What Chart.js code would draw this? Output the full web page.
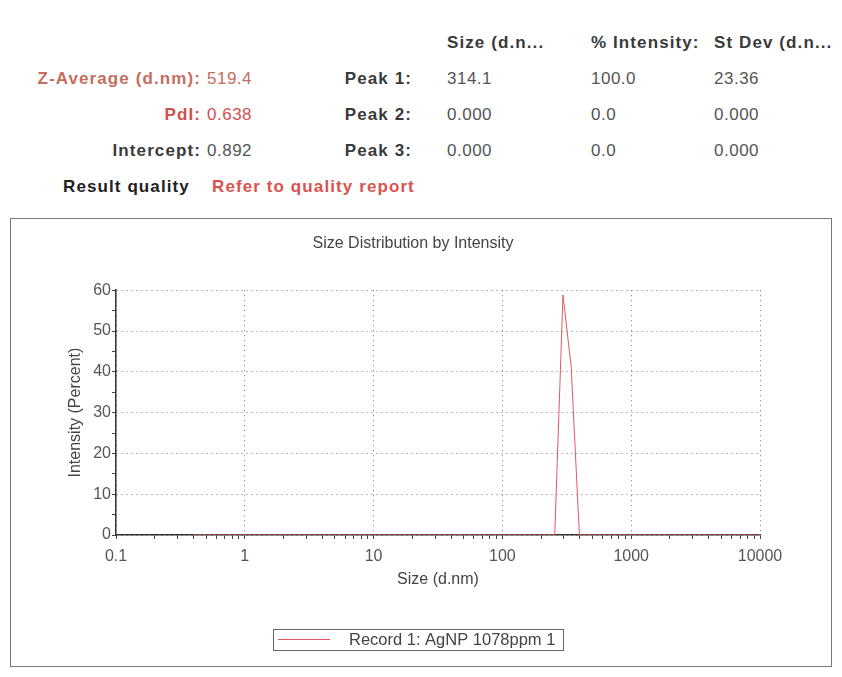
<!DOCTYPE html>
<html>
<head>
<meta charset="utf-8">
<script src="https://cdn.jsdelivr.net/npm/chart.js@4.4.1/dist/chart.umd.min.js"></script>
<style>
    body { margin: 0; background: #fff; font-family: "Liberation Sans", Arial, sans-serif; }
    .t { position: absolute; font-size: 17px; line-height: 20px; white-space: nowrap; color: #555; letter-spacing: 0.5px; }
    .b { font-weight: bold; color: #3a3a3a; letter-spacing: 1.1px; }
    .r { text-align: right; }
    #box { position: absolute; left: 10px; top: 218px; width: 820px; height: 447px; border: 1px solid #777; }
</style>
</head>
<body>
<!-- summary table above the plot -->
<div class="t b" style="left:447px;top:33px">Size (d.n...</div>
<div class="t b" style="left:591px;top:33px">% Intensity:</div>
<div class="t b" style="left:714px;top:33px">St Dev (d.n...</div>

<div class="t b r" style="right:641px;top:69px;color:#c46e5e">Z-Average (d.nm):</div>
<div class="t" style="left:207px;top:69px;color:#c46e5e">519.4</div>
<div class="t b r" style="right:641px;top:105px;color:#d24f4f">PdI:</div>
<div class="t" style="left:207px;top:105px;color:#d24f4f">0.638</div>
<div class="t b r" style="right:641px;top:141px">Intercept:</div>
<div class="t" style="left:207px;top:141px">0.892</div>

<div class="t b r" style="right:430px;top:69px">Peak 1:</div>
<div class="t b r" style="right:430px;top:105px">Peak 2:</div>
<div class="t b r" style="right:430px;top:141px">Peak 3:</div>

<div class="t" style="left:447px;top:69px">314.1</div>
<div class="t" style="left:591px;top:69px">100.0</div>
<div class="t" style="left:714px;top:69px">23.36</div>
<div class="t" style="left:447px;top:105px">0.000</div>
<div class="t" style="left:591px;top:105px">0.0</div>
<div class="t" style="left:714px;top:105px">0.000</div>
<div class="t" style="left:447px;top:141px">0.000</div>
<div class="t" style="left:591px;top:141px">0.0</div>
<div class="t" style="left:714px;top:141px">0.000</div>

<div class="t b" style="left:63px;top:177px;color:#222">Result quality</div>
<div class="t b" style="left:212px;top:177px;color:#d9534f">Refer to quality report</div>

<div id="box"><canvas id="c" width="820" height="447"></canvas></div>

<script>
// size classes (d.nm) and intensity (%)
const sizes = [0.4, 1, 10, 100, 190.1, 220.2, 255.0, 295.3, 342.0, 396.1, 458.7, 1000, 10000];
const intensity = [0, 0, 0, 0, 0, 0, 0, 58.8, 41.2, 0, 0, 0, 0];
const recordLabel = 'Record 1: AgNP 1078ppm 1';

const xMajor = [0.1, 1, 10, 100, 1000, 10000];
const xTickLabels = ['0.1', '1', '10', '100', '1000', '10000'];
const yMajor = [0, 10, 20, 30, 40, 50, 60];

const FONT = '"Liberation Sans", Arial, sans-serif';

function buildXTicks(scale) {
    let ticks = [];
    for (let i = 0; i < xMajor.length; i++) {
        ticks.push({ value: xMajor[i], major: true });
        if (i < xMajor.length - 1) {
            for (let m = 2; m <= 9; m++) ticks.push({ value: xMajor[i] * m, major: false });
        }
    }
    scale.ticks = ticks;
}

function buildYTicks(scale) {
    let ticks = [];
    for (let v = 0; v <= 60; v += 5) ticks.push({ value: v, major: yMajor.includes(v) });
    scale.ticks = ticks;
}

// boxed legend at the bottom, like the instrument report
const boxLegend = {
    id: 'boxLegend',
    afterDraw(chart) {
        const ctx = chart.ctx;
        const ds = chart.data.datasets[0];
        ctx.save();
        ctx.strokeStyle = '#666';
        ctx.lineWidth = 1;
        ctx.strokeRect(262.5, 410.5, 290, 21);
        ctx.strokeStyle = ds.borderColor;
        ctx.beginPath();
        ctx.moveTo(267, 420.5);
        ctx.lineTo(319, 420.5);
        ctx.stroke();
        ctx.fillStyle = '#444';
        ctx.font = '16.5px ' + FONT;
        ctx.textBaseline = 'middle';
        ctx.fillText(ds.label, 338, 421);
        ctx.restore();
    }
};

const ctx = document.getElementById('c').getContext('2d');
new Chart(ctx, {
    type: 'line',
    data: {
        datasets: [{
            label: recordLabel,
            data: sizes.map((s, i) => ({ x: s, y: intensity[i] })),
            borderColor: '#e05a60',
            borderWidth: 1,
            pointRadius: 0,
            tension: 0
        }]
    },
    options: {
        responsive: false,
        animation: false,
        layout: { padding: { left: 55, right: 71, top: 0, bottom: 76 } },
        plugins: {
            legend: { display: false },
            tooltip: { enabled: false },
            title: {
                display: true,
                text: 'Size Distribution by Intensity',
                color: '#444',
                font: { family: FONT, size: 16, weight: 'normal' },
                padding: { top: 15, bottom: 37 }
            }
        },
        scales: {
            x: {
                type: 'logarithmic',
                min: 0.1,
                max: 10000,
                afterBuildTicks: buildXTicks,
                afterFit: (s) => { s.height = 55; },
                ticks: {
                    autoSkip: false,
                    maxRotation: 0,
                    padding: 8,
                    color: '#555',
                    font: { family: FONT, size: 16 },
                    callback: (v) => { const i = xMajor.indexOf(v); return i >= 0 ? xTickLabels[i] : ''; }
                },
                grid: {
                    color: (c) => (c.tick && c.tick.major ? '#777' : 'rgba(0,0,0,0)'),
                    tickColor: '#444',
                    tickLength: 4,
                    lineWidth: 1
                },
                border: { color: '#333', width: 1.5, dash: [1, 4] },
                title: {
                    display: true,
                    text: 'Size (d.nm)',
                    color: '#444',
                    font: { family: FONT, size: 16 },
                    padding: { top: 4, bottom: 1 }
                }
            },
            y: {
                min: 0,
                max: 60,
                afterBuildTicks: buildYTicks,
                afterFit: (s) => { s.width = 50; },
                ticks: {
                    autoSkip: false,
                    padding: 1,
                    color: '#555',
                    font: { family: FONT, size: 16 },
                    callback: (v) => (v % 10 === 0 ? v : '')
                },
                grid: {
                    color: (c) => (c.tick && c.tick.major ? '#777' : 'rgba(0,0,0,0)'),
                    tickColor: '#444',
                    tickLength: 4,
                    lineWidth: 1
                },
                border: { color: '#333', width: 1.5, dash: [1, 4] },
                title: {
                    display: true,
                    text: 'Intensity (Percent)',
                    color: '#444',
                    font: { family: FONT, size: 16 },
                    padding: { top: 0, bottom: 0 }
                }
            }
        }
    },
    plugins: [boxLegend]
});
</script>
</body>
</html>
